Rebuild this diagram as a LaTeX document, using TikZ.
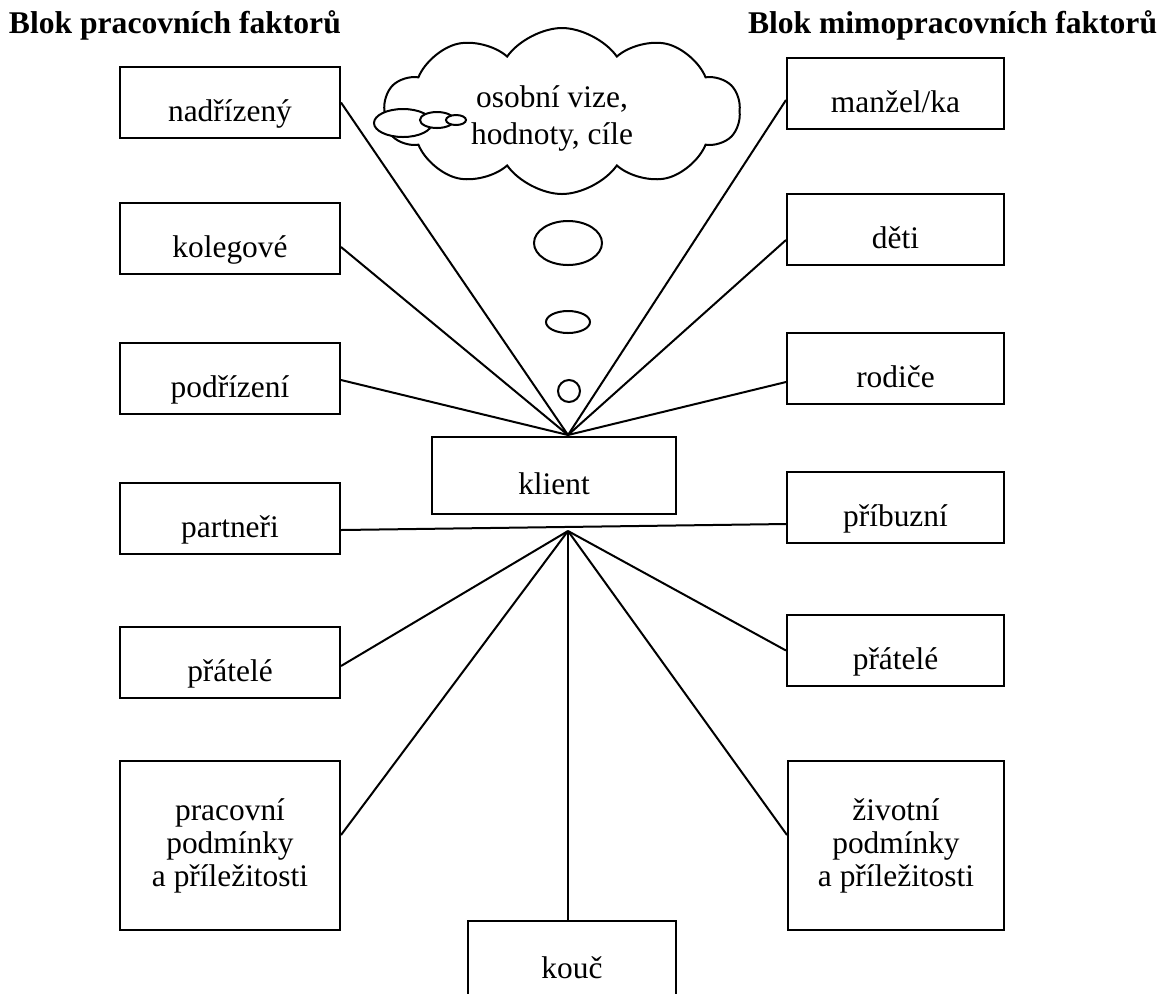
\documentclass[tikz,border=0pt]{standalone}
\usepackage{fontspec}
\setmainfont{Liberation Serif}
\usetikzlibrary{shapes.symbols}

\begin{document}
\begin{tikzpicture}[x=0.5pt,y=-0.5pt,line width=1pt,
  txt/.style={font=\fontsize{15.7}{16.5}\selectfont},
  frame/.style={draw,fill=white,inner sep=0pt,txt},
  box/.style={frame,minimum width=110pt,minimum height=35.5pt,text height=19pt,text depth=0pt},
  rbox/.style={box,minimum width=108.5pt},
  tallbox/.style={frame,minimum width=110pt,minimum height=84.5pt,align=center},
  head/.style={anchor=base west,inner sep=0pt,font=\bfseries\fontsize{15.8}{18}\selectfont}]
\useasboundingbox (0,0) rectangle (1157,993);
\clip (0,0) rectangle (1157,993);

% nadpisy
\node[head] (hleft) at (8,33) {Blok pracovních faktorů};
\node[head] (hright) at (747,33) {Blok mimopracovních faktorů};

% pracovni faktory
\node[box] (nadr) at (230,102.5) {nadřízený};
\node[box] (koleg) at (230,238.5) {kolegové};
\node[box] (podr) at (230,378) {podřízení};
\node[box] (partn) at (230,518.5) {partneři};
\node[box] (pratL) at (230,662.5) {přátelé};
\node[tallbox] (pracp) at (230,845.5) {pracovní\\podmínky\\a příležitosti};

% mimopracovni faktory
\node[rbox] (manz) at (895.5,93) {manžel/ka};
\node[rbox] (deti) at (895.5,229) {děti};
\node[rbox] (rodice) at (895.5,368.5) {rodiče};
\node[rbox] (pribuz) at (895.5,507) {příbuzní};
\node[rbox] (pratR) at (895.5,650.5) {přátelé};
\node[tallbox,minimum width=108pt] (zivp) at (896,845.5) {životní\\podmínky\\a příležitosti};

% klient a kouc
\node[box,minimum width=122pt,minimum height=38.5pt] (klient) at (554,475.5) {klient};
\node[box,minimum width=104pt,minimum height=38.5pt] (kouc) at (572,959.5) {kouč};

\coordinate (hubT) at (568,435);
\coordinate (hubB) at (568,531);

% spojnice nahoru
\draw (hubT) -- (nadr.east);
\draw (hubT) -- ([yshift=-4.25pt]koleg.east);
\draw (hubT) -- ([yshift=-1pt]podr.east);
\draw (hubT) -- ([yshift=-3.5pt]manz.west);
\draw (hubT) -- ([yshift=-5.5pt]deti.west);
\draw (hubT) -- ([yshift=-6.75pt]rodice.west);

% spojnice dolu
\draw ([yshift=-5.75pt]partn.east) -- ([yshift=-8.5pt]pribuz.west);
\draw (hubB) -- ([yshift=-1.75pt]pratL.east);
\draw (hubB) -- ([yshift=5.25pt]pracp.east);
\draw (hubB) -- (pratR.west);
\draw (hubB) -- ([yshift=5.25pt]zivp.west);
\draw (hubB) -- (hubB |- kouc.north);

% myslenkovy oblacek
\node[cloud,draw,fill=white,cloud puffs=10,cloud puff arc=110,cloud ignores aspect,
  minimum width=178pt,minimum height=83pt,inner sep=0pt] (vize) at (562,111) {};
\node[txt,align=center,inner sep=0pt,font=\fontsize{15.7}{18.5}\selectfont] (cile) at (552,118) {osobní vize,\\hodnoty, cíle};
\draw[fill=white] (403,123) ellipse [x radius=14.5pt,y radius=7pt];
\draw[fill=white] (437,120) ellipse [x radius=8.5pt,y radius=4pt];
\draw[fill=white] (456,120) ellipse [x radius=5pt,y radius=2.5pt];

\draw (568,243) ellipse [x radius=17pt,y radius=11pt];
\draw (568,322) ellipse [x radius=11pt,y radius=5.5pt];
\draw (569,391) circle [radius=5.5pt];
\end{tikzpicture}
\end{document}
